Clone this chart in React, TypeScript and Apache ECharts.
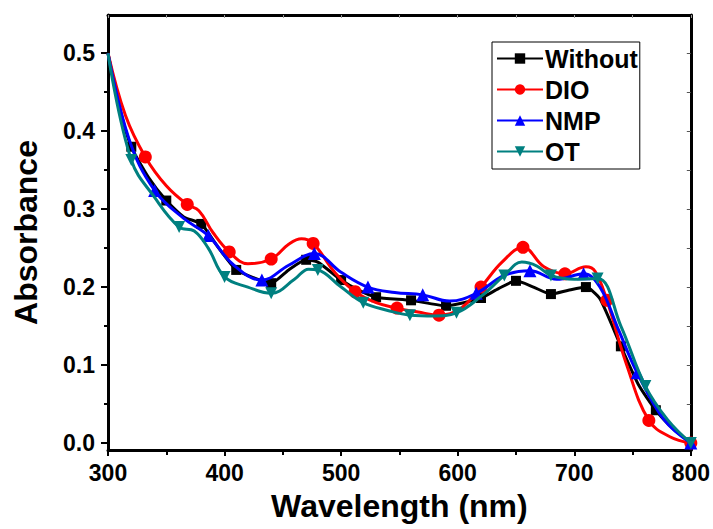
import React, { useEffect, useRef } from "react";
import * as echarts from "echarts";

// Wavelength (nm), Absorbance pairs
const withoutPts: number[][] = [
  [300, 0.5], [310, 0.43], [320, 0.38], [335, 0.34], [350, 0.311], [365, 0.29], [380, 0.281],
  [395, 0.25], [410, 0.222], [425, 0.212], [440, 0.205], [455, 0.222], [470, 0.235], [480, 0.232],
  [500, 0.209], [515, 0.196], [530, 0.187], [560, 0.183], [590, 0.176], [620, 0.186], [635, 0.198],
  [650, 0.208], [665, 0.2], [680, 0.191], [695, 0.196], [710, 0.2], [722, 0.185], [740, 0.124],
  [755, 0.075], [770, 0.042], [785, 0.018], [800, 0.0],
];
const withoutMarks = [320, 350, 380, 410, 440, 470, 500, 530, 560, 590, 620, 650, 680, 710, 740, 770, 800];

const dioPts: number[][] = [
  [300, 0.5], [315, 0.42], [332, 0.367], [350, 0.33], [368, 0.306], [378, 0.298], [390, 0.27],
  [404, 0.245], [420, 0.23], [440, 0.236], [455, 0.255], [466, 0.262], [476, 0.256], [495, 0.218],
  [512, 0.194], [530, 0.18], [548, 0.173], [566, 0.168], [584, 0.164], [602, 0.172], [620, 0.2],
  [638, 0.232], [656, 0.251], [674, 0.226], [692, 0.217], [710, 0.226], [718, 0.22], [728, 0.183],
  [745, 0.1], [764, 0.029], [782, 0.008], [800, 0.0],
];
const dioMarks = [332, 368, 404, 440, 476, 512, 548, 584, 620, 656, 692, 728, 764, 800];

const nmpPts: number[][] = [
  [300, 0.5], [318, 0.39], [340, 0.324], [365, 0.288], [386, 0.266], [408, 0.228], [432, 0.209],
  [455, 0.228], [477, 0.243], [500, 0.219], [523, 0.2], [546, 0.193], [570, 0.19], [593, 0.182],
  [616, 0.192], [640, 0.215], [662, 0.221], [685, 0.21], [708, 0.217], [722, 0.2], [738, 0.145],
  [754, 0.09], [777, 0.03], [800, 0.0],
];
const nmpMarks = [340, 386, 432, 477, 523, 570, 616, 662, 708, 754, 800];

const otPts: number[][] = [
  [300, 0.5], [320, 0.363], [340, 0.315], [361, 0.277], [374, 0.272], [386, 0.25], [400, 0.213],
  [420, 0.2], [440, 0.192], [460, 0.21], [472, 0.223], [480, 0.222], [500, 0.2], [519, 0.18],
  [540, 0.17], [559, 0.164], [580, 0.163], [599, 0.167], [620, 0.188], [640, 0.215], [655, 0.232],
  [668, 0.227], [680, 0.215], [700, 0.21], [720, 0.211], [740, 0.15], [761, 0.073], [780, 0.03],
  [800, 0.0],
];
const otMarks = [320, 361, 400, 440, 480, 519, 559, 599, 640, 680, 720, 761, 800];

const seriesNames = ["Without", "DIO", "NMP", "OT"];
const seriesColors = ["#000000", "#ff0000", "#0000ff", "#008080"];
const seriesSymbols = ["rect", "circle", "triangle", "path://M0,0 L10,0 L5,9 Z"];
const seriesSmooth = [0.2, 0.4, 0.4, 0.4];

const xTicks = [300, 400, 500, 600, 700, 800];
const yMajorTicks = [0, 0.1, 0.2, 0.3, 0.4, 0.5];
const yMinorTicks = [0.05, 0.15, 0.25, 0.35, 0.45];
const yAllTicks = [0, 0.05, 0.1, 0.15, 0.2, 0.25, 0.3, 0.35, 0.4, 0.45, 0.5, 0.55];

const FONT = "'Liberation Sans', Arial, sans-serif";

export default function App() {
  const ref = useRef<HTMLDivElement>(null);
  useEffect(() => {
    if (!ref.current) return;
    const chart = echarts.init(ref.current, undefined, { renderer: "svg" });
    const allPts = [withoutPts, dioPts, nmpPts, otPts];
    const allMarks = [withoutMarks, dioMarks, nmpMarks, otMarks];
    const symSizes = [10, 13, 13, 12];
    const series: any[] = allPts.map((pts, i) => ({
      name: seriesNames[i],
      type: "line",
      xAxisIndex: 0,
      yAxisIndex: 0,
      smooth: seriesSmooth[i],
      symbol: seriesSymbols[i],
      symbolSize: symSizes[i],
      showAllSymbol: true,
      color: seriesColors[i],
      lineStyle: { width: 3, color: seriesColors[i] },
      itemStyle: { color: seriesColors[i] },
      z: 2 + i,
      data: pts.map((p) => ({
        value: p,
        symbol: allMarks[i].includes(p[0]) ? seriesSymbols[i] : "none",
      })),
    }));

    const yMin = -0.009;
    const yMax = 0.549;

    chart.setOption({
      animation: false,
      backgroundColor: "#ffffff",
      textStyle: { fontFamily: FONT },
      grid: { left: 108, right: 21, top: 15, bottom: 79, containLabel: false },
      legend: {
        left: 492,
        top: 42,
        orient: "vertical",
        data: seriesNames,
        borderColor: "#000",
        borderWidth: 1,
        padding: [4, 2, 5, 4],
        itemGap: 6,
        itemWidth: 46,
        itemHeight: 13,
        textStyle: { fontSize: 25, fontWeight: "bold", color: "#000", fontFamily: FONT, padding: [0, 0, 0, -3] },
      },
      xAxis: [
        {
          type: "value",
          min: 300,
          max: 800,
          interval: 100,
          position: "bottom",
          name: "Wavelength (nm)",
          nameLocation: "middle",
          nameGap: 40,
          nameTextStyle: { fontSize: 32, fontWeight: "bold", color: "#000", fontFamily: FONT, verticalAlign: "top" },
          axisLine: { show: true, onZero: false, lineStyle: { color: "#000", width: 3 } },
          axisTick: { show: true, inside: false, length: 6, lineStyle: { width: 2, color: "#000" } },
          minorTick: { show: true, splitNumber: 2, length: 5, lineStyle: { width: 2, color: "#000" } },
          axisLabel: { fontSize: 23, fontWeight: "bold", color: "#000", margin: 11, fontFamily: FONT, customValues: xTicks },
          splitLine: { show: false },
        },
        {
          type: "value",
          min: 300,
          max: 800,
          interval: 50,
          position: "top",
          axisLine: { show: true, onZero: false, lineStyle: { color: "#000", width: 3 } },
          axisTick: { show: true, inside: true, length: 3, lineStyle: { width: 1, color: "#999" } },
          axisLabel: { show: false },
          splitLine: { show: false },
        },
      ],
      yAxis: [
        {
          type: "value",
          min: yMin,
          max: yMax,
          position: "left",
          name: "Absorbance",
          nameLocation: "middle",
          nameGap: 66,
          nameRotate: 90,
          nameTextStyle: { fontSize: 32, fontWeight: "bold", color: "#000", fontFamily: FONT },
          axisLine: { show: true, onZero: false, lineStyle: { color: "#000", width: 3 } },
          axisTick: { show: true, inside: false, length: 7, customValues: yMajorTicks, lineStyle: { width: 2, color: "#000" } },
          axisLabel: {
            fontSize: 23,
            fontWeight: "bold",
            color: "#000",
            margin: 13,
            fontFamily: FONT,
            customValues: yMajorTicks,
            formatter: (v: number) => v.toFixed(1),
          },
          splitLine: { show: false },
        },
        {
          type: "value",
          min: yMin,
          max: yMax,
          position: "left",
          axisLine: { show: false, onZero: false },
          axisTick: { show: true, inside: false, length: 4, customValues: yMinorTicks, lineStyle: { width: 2, color: "#000" } },
          axisLabel: { show: false, customValues: yMinorTicks },
          splitLine: { show: false },
        },
        {
          type: "value",
          min: yMin,
          max: yMax,
          position: "right",
          axisLine: { show: true, onZero: false, lineStyle: { color: "#000", width: 3 } },
          axisTick: { show: true, inside: true, length: 4, customValues: yAllTicks, lineStyle: { width: 1, color: "#555" } },
          axisLabel: { show: false, customValues: yAllTicks },
          splitLine: { show: false },
        },
      ],
      series,
    });
    return () => chart.dispose();
  }, []);
  return (
    <div
      ref={ref}
      style={{ position: "absolute", left: 0, top: 0, width: 713, height: 529, background: "#fff" }}
    />
  );
}
